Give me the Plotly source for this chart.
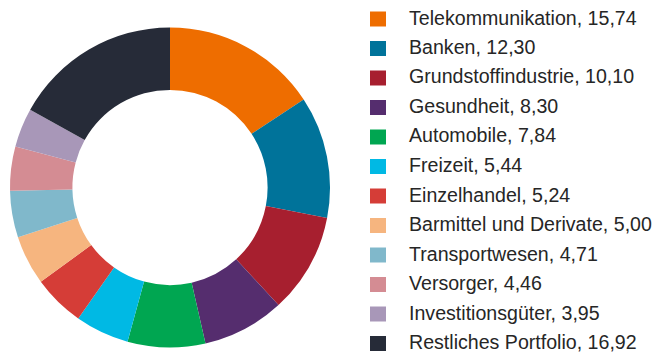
import plotly.graph_objects as go

# Sector weights (%)
sectors = [
    "Telekommunikation", "Banken", "Grundstoffindustrie", "Gesundheit",
    "Automobile", "Freizeit", "Einzelhandel", "Barmittel und Derivate",
    "Transportwesen", "Versorger", "Investitionsgüter", "Restliches Portfolio",
]
weights = [15.74, 12.30, 10.10, 8.30, 7.84, 5.44, 5.24, 5.00, 4.71, 4.46, 3.95, 16.92]
colors = [
    "#EE6D00", "#00739A", "#A71F2F", "#552D6E", "#00A651", "#00B9E4",
    "#D53D37", "#F6B57F", "#80B8CB", "#D48C93", "#A897B8", "#262B38",
]

W, H = 664, 354

fig = go.Figure(
    go.Pie(
        labels=sectors,
        values=weights,
        marker=dict(colors=colors, line=dict(width=0)),
        hole=0.61,
        sort=False,
        direction="clockwise",
        rotation=0,
        textinfo="none",
        hoverinfo="skip",
        showlegend=False,
        domain=dict(x=[10 / W, 330 / W], y=[1 - 347.5 / H, 1 - 27.5 / H]),
    )
)

# Hand-built legend: colour square plus "label, value" text per sector
row0, row_step = 19.0, 29.5
for i, (name, val, col) in enumerate(zip(sectors, weights, colors)):
    yc = row0 + i * row_step
    fig.add_shape(
        type="rect", xref="paper", yref="paper",
        x0=370 / W, x1=386 / W,
        y0=1 - (yc + 7.5) / H, y1=1 - (yc - 7.5) / H,
        fillcolor=col, line=dict(width=0),
    )
    fig.add_annotation(
        xref="paper", yref="paper",
        x=408 / W, y=1 - (yc - 1.5) / H,
        xanchor="left", yanchor="middle",
        borderpad=0,
        text=f"{name}, {val:.2f}".replace(".", ","),
        showarrow=False,
        font=dict(family="Liberation Sans, Arial, sans-serif", size=19.6, color="#262626"),
    )

fig.update_layout(
    width=W, height=H,
    margin=dict(l=0, r=0, t=0, b=0),
    paper_bgcolor="white",
    plot_bgcolor="white",
)

fig.write_html("out.html")
